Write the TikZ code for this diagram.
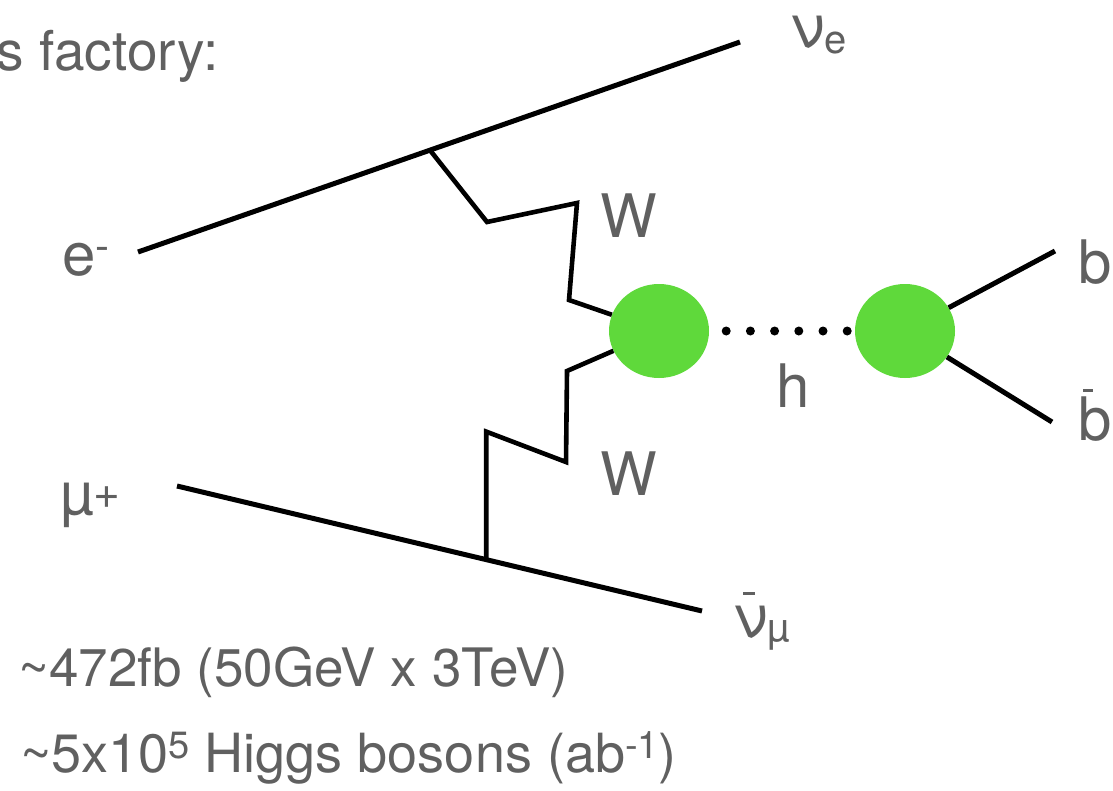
\documentclass[tikz,border=0pt]{standalone}
\usepackage{fontspec}
\setmainfont{TeX Gyre Heros}
\usetikzlibrary{shapes.geometric,calc}
\definecolor{labelgray}{HTML}{606060}
\definecolor{blobgreen}{HTML}{5FD93B}
% raised / lowered small text for super- and subscripts
\newcommand\upscript[3]{\raisebox{#1}{\fontsize{#2}{#2}\selectfont #3}}
\newcommand\downscript[2]{\raisebox{-#1}{\fontsize{40}{42}\selectfont #2}}
% glyph with a short bar over it: glyph, bar x-offset, bar height, bar width
\newcommand\barover[4]{\makebox[0pt][l]{\hspace{#2}\raisebox{#3}{\rule{#4}{3.2pt}}}#1}
\begin{document}
\begin{tikzpicture}[x=1pt,y=-1pt,
  fermion/.style={line width=5pt},
  wboson/.style={line width=4.6pt, line join=miter},
  blob/.style={ellipse, fill=blobgreen, minimum width=100pt, minimum height=94pt, inner sep=0pt},
  lbl/.style={text=labelgray, font=\fontsize{60}{72}\selectfont, inner sep=0pt},
  note/.style={text=labelgray, font=\fontsize{53}{60}\selectfont, inner sep=0pt},
  higgsdots/.style={line width=9pt, line cap=round, dash pattern=on 0pt off 24.2pt,
                    shorten <=17pt, shorten >=7pt}]
\useasboundingbox (0,0) rectangle (1113,790);

% vertices and external legs
\coordinate (eIn) at (138,252);
\coordinate (eOut) at (740,42);
\coordinate (vE) at ($(eIn)!0.485!(eOut)$);
\coordinate (muIn) at (177,486);
\coordinate (muOut) at (702,611);
\coordinate (vMu) at ($(muIn)!0.589!(muOut)$);
\coordinate (bOut) at (1055,251);
\coordinate (bbarOut) at (1052,422);

% Higgs production and decay blobs
\node[blob] (h1) at (659,331) {};
\node[blob] (h2) at (905,331) {};

% fermion lines
\draw[fermion] (eIn) -- (eOut);
\draw[fermion] (muIn) -- (muOut);
\draw[fermion] (h2) -- (bOut);
\draw[fermion] (h2) -- (bbarOut);

% W bosons
\draw[wboson] (vE) -- (487,222) -- (577,203) -- (569,300) -- (h1);
\draw[wboson] (vMu) -- ++(0,-128) -- (566,462) -- (567,371) -- (h1);

% Higgs propagator
\draw[higgsdots] (h1) -- (h2);

% particle labels
\node[lbl, anchor=base west] (lE) at (62,275) {e\upscript{15pt}{42}{-}};
\node[lbl, anchor=base west] (lMu) at (60,514) {µ\upscript{6pt}{46}{+}};
\node[lbl, anchor=base west] (lNuE) at (790,47) {ν\downscript{6pt}{e}};
\node[lbl, anchor=base west] (lNuMu) at (733,637) {\barover{ν}{10pt}{42pt}{12pt}\downscript{4pt}{µ}};
\node[lbl, anchor=base west] (lW1) at (600,237) {W};
\node[lbl, anchor=base west] (lW2) at (600,495) {W};
\node[lbl, anchor=base west] (lH) at (776,407) {h};
\node[lbl, anchor=base west] (lB) at (1078,283) {b};
\node[lbl, anchor=base west] (lBbar) at (1078,440) {\barover{b}{5pt}{48pt}{10pt}};

% heading and rate notes
\node[lbl, font=\fontsize{55}{60}\selectfont, anchor=base east] (title) at (219,70) {s factory:};
\node[note, anchor=base west] (rate) at (18,686) {\textasciitilde 472fb (50GeV x 3TeV)};
\node[note, font=\fontsize{54}{60}\selectfont, anchor=base west] (yield) at (20,772)
  {\textasciitilde 5x10\upscript{14pt}{38}{5} Higgs bosons (ab\upscript{14pt}{38}{-1})};
\end{tikzpicture}
\end{document}
